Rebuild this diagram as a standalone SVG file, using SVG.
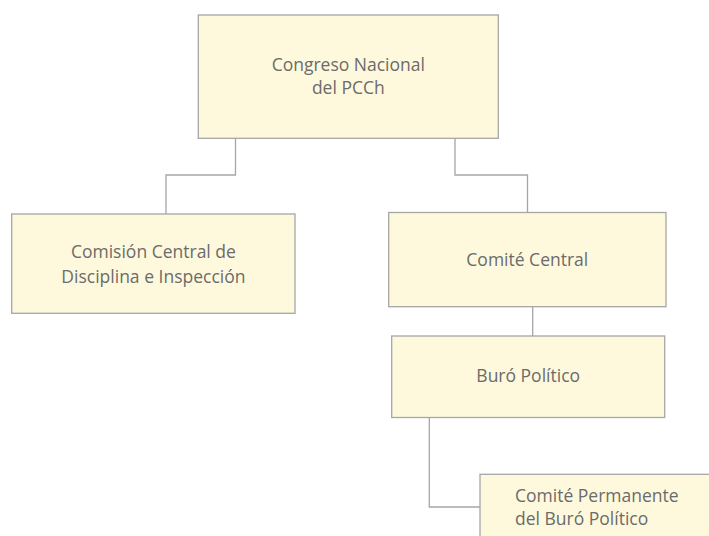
<svg xmlns="http://www.w3.org/2000/svg" width="709" height="536" viewBox="0 0 709 536">
  <style>
    .box { fill: #FEF9DC; stroke: #A6A6A6; stroke-width: 1.3; }
    .lbl { font-family: "Open Sans", "Liberation Sans", sans-serif; font-size: 17.5px; fill: #6B6B6B; text-anchor: middle; }
    .left { text-anchor: start; }
    .conn { fill: none; stroke: #A6A6A6; stroke-width: 1.3; }
  </style>
  <rect width="709" height="536" fill="#FFFFFF"/>
  <g id="connectors">
    <path class="conn" d="M235.5,138.3 V175 H166 V214"/>
    <path class="conn" d="M455,138.3 V175 H527.5 V212.5"/>
    <path class="conn" d="M532.7,306.7 V336"/>
    <path class="conn" d="M429.3,417.5 V507 H480"/>
  </g>
  <g id="congreso">
    <rect class="box" x="198.3" y="15" width="300" height="123.3"/>
    <text class="lbl" x="348.3" y="70.7">Congreso Nacional</text>
    <text class="lbl" x="348.3" y="94.3">del PCCh</text>
  </g>
  <g id="comision">
    <rect class="box" x="11.7" y="214" width="283.3" height="99.3"/>
    <text class="lbl" x="153.4" y="258.3">Comisión Central de</text>
    <text class="lbl" x="153.4" y="283.3">Disciplina e Inspección</text>
  </g>
  <g id="comite-central">
    <rect class="box" x="388.7" y="212.5" width="277.3" height="94.2"/>
    <text class="lbl" x="527.3" y="265.7">Comité Central</text>
  </g>
  <g id="buro">
    <rect class="box" x="391.7" y="336" width="273" height="81.5"/>
    <text class="lbl" x="528.2" y="381.7">Buró Político</text>
  </g>
  <g id="comite-permanente">
    <rect class="box" x="480" y="474.3" width="240" height="70"/>
    <text class="lbl left" x="515" y="501.7">Comité Permanente</text>
    <text class="lbl left" x="515" y="525">del Buró Político</text>
  </g>
</svg>
